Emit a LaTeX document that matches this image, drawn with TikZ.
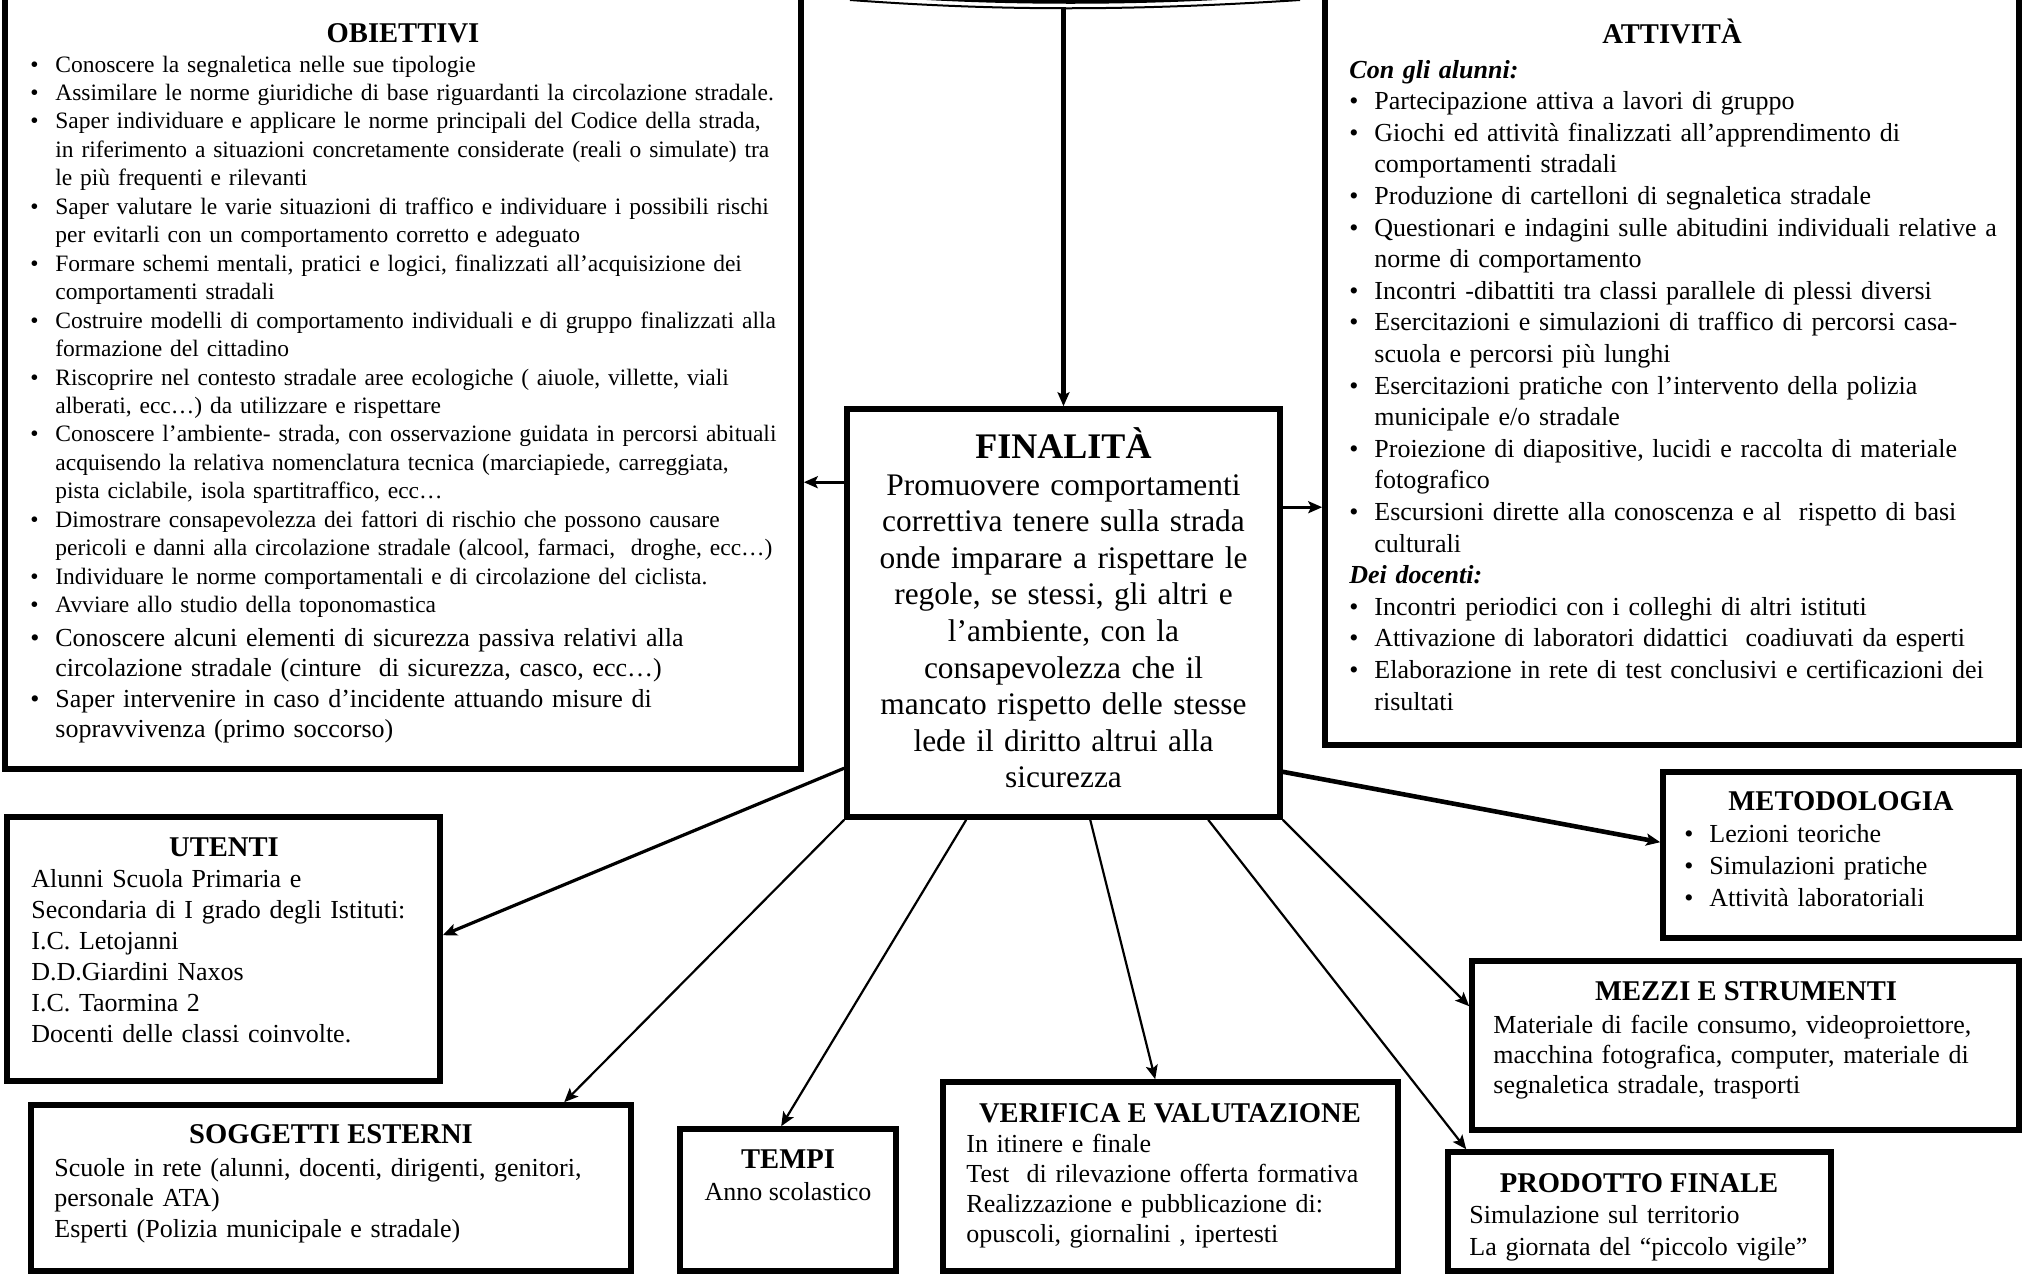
\documentclass[tikz,border=0pt]{standalone}
\usepackage{fontspec}
\setmainfont{Liberation Serif}
\usetikzlibrary{arrows.meta,calc,fit}
\newcommand\fs[2]{\fontsize{#1}{#2}\selectfont}
\newcommand\bu{\makebox[12.5pt][l]{\textbullet}}
\newcommand\ind{\hspace*{12.5pt}}
\begin{document}
\begin{tikzpicture}[x=0.5pt,y=-0.5pt,
  box/.style={draw, line width=2.8pt, inner sep=0pt},
  ttl/.style={anchor=base, inner sep=0pt, font=\bfseries\fs{14.3}{17}},
  txt/.style={anchor=base west, inner sep=0pt, text width=420pt, align=left},
  tip/.style={-{Stealth[length=7pt,width=6pt,inset=1.5pt]}},
  arrthin/.style={tip, line width=1.1pt},
  arrmid/.style={tip, line width=1.6pt},
  arrthick/.style={tip, line width=2.3pt}]
\useasboundingbox (0,0) rectangle (2023,1275);
\fill[white] (0,0) rectangle (2023,1275);
\clip (0,0) rectangle (2023,1275);

% top shape (bottom of a cut-off title shape)
\fill (880,-3) .. controls (1000,6) and (1140,6) .. (1265,-3) -- cycle;
\draw[line width=1pt] (850,0) .. controls (1000,11) and (1130,11) .. (1300,0);
\coordinate (ttop) at (1063.5,7);

% boxes
\node[box, fit={(5,-20) (801,769)}] (obj) {};
\node[box, fit={(1325,-20) (2019,745)}] (att) {};
\node[box, fit={(847,409) (1280,817)}] (fin) {};
\node[box, fit={(7,817) (440,1081)}] (ute) {};
\node[box, fit={(31,1105) (631,1271)}] (sog) {};
\node[box, fit={(680,1129) (896,1271)}] (tem) {};
\node[box, fit={(943,1082) (1398,1271)}] (ver) {};
\node[box, fit={(1663,772) (2019,938)}] (met) {};
\node[box, fit={(1472,961) (2019,1130)}] (mez) {};
\node[box, fit={(1448,1152) (1831,1271)}] (pro) {};

% OBIETTIVI
\node[ttl] (objT) at (403,42) {OBIETTIVI};
\node[txt, font=\fs{11.75}{14.23}] (objB) at (30,72) {%
\bu Conoscere la segnaletica nelle sue tipologie\\
\bu Assimilare le norme giuridiche di base riguardanti la circolazione stradale.\\
\bu Saper individuare e applicare le norme principali del Codice della strada,\\
\ind in riferimento a situazioni concretamente considerate (reali o simulate) tra\\
\ind le più frequenti e rilevanti\\
\bu Saper valutare le varie situazioni di traffico e individuare i possibili rischi\\
\ind per evitarli con un comportamento corretto e adeguato\\
\bu Formare schemi mentali, pratici e logici, finalizzati all’acquisizione dei\\
\ind comportamenti stradali\\
\bu Costruire modelli di comportamento individuali e di gruppo finalizzati alla\\
\ind formazione del cittadino\\
\bu Riscoprire nel contesto stradale aree ecologiche ( aiuole, villette, viali\\
\ind alberati, ecc…) da utilizzare e rispettare\\
\bu Conoscere l’ambiente- strada, con osservazione guidata in percorsi abituali\\
\ind acquisendo la relativa nomenclatura tecnica (marciapiede, carreggiata,\\
\ind pista ciclabile, isola spartitraffico, ecc…\\
\bu Dimostrare consapevolezza dei fattori di rischio che possono causare\\
\ind pericoli e danni alla circolazione stradale (alcool, farmaci,\ \ droghe, ecc…)\\
\bu Individuare le norme comportamentali e di circolazione del ciclista.\\
\bu Avviare allo studio della toponomastica};
\node[txt, font=\fs{13}{15.25}] (objC) at (30,646) {%
\bu Conoscere alcuni elementi di sicurezza passiva relativi alla\\
\ind circolazione stradale (cinture\ \ di sicurezza, casco, ecc…)\\
\bu Saper intervenire in caso d’incidente attuando misure di\\
\ind sopravvivenza (primo soccorso)};

% ATTIVITA
\node[ttl] (attT) at (1672,43) {ATTIVITÀ};
\node[txt, font=\fs{13}{15.8}] (attB) at (1349,78) {%
\textbf{\textit{Con gli alunni:}}\\
\bu Partecipazione attiva a lavori di gruppo\\
\bu Giochi ed attività finalizzati all’apprendimento di\\
\ind comportamenti stradali\\
\bu Produzione di cartelloni di segnaletica stradale\\
\bu Questionari e indagini sulle abitudini individuali relative a\\
\ind norme di comportamento\\
\bu Incontri -dibattiti tra classi parallele di plessi diversi\\
\bu Esercitazioni e simulazioni di traffico di percorsi casa-\\
\ind scuola e percorsi più lunghi\\
\bu Esercitazioni pratiche con l’intervento della polizia\\
\ind municipale e/o stradale\\
\bu Proiezione di diapositive, lucidi e raccolta di materiale\\
\ind fotografico\\
\bu Escursioni dirette alla conoscenza e al\ \ rispetto di basi\\
\ind culturali\\
\textbf{\textit{Dei docenti:}}\\
\bu Incontri periodici con i colleghi di altri istituti\\
\bu Attivazione di laboratori didattici\ \ coadiuvati da esperti\\
\bu Elaborazione in rete di test conclusivi e certificazioni dei\\
\ind risultati};

% FINALITA
\node[anchor=base, inner sep=0pt, font=\bfseries\fs{18}{22}] (finT) at (1063.5,458) {FINALITÀ};
\node[anchor=base, inner sep=0pt, text width=215pt, align=center, font=\fs{15.7}{18.3}] (finB) at (1063.5,495) {Promuovere comportamenti\\correttiva tenere sulla strada\\onde imparare a rispettare le\\regole, se stessi, gli altri e\\l’ambiente, con la\\consapevolezza che il\\mancato rispetto delle stesse\\lede il diritto altrui alla\\sicurezza};

% UTENTI
\node[ttl] (uteT) at (224,856) {UTENTI};
\node[txt, font=\fs{13}{15.5}] (uteB) at (31,887) {%
Alunni Scuola Primaria e\\
Secondaria di I grado degli Istituti:\\
I.C. Letojanni\\
D.D.Giardini Naxos\\
I.C. Taormina 2\\
Docenti delle classi coinvolte.};

% SOGGETTI ESTERNI
\node[ttl] (sogT) at (331,1143) {SOGGETTI ESTERNI};
\node[txt, font=\fs{13}{15.25}] (sogB) at (54,1176) {%
Scuole in rete (alunni, docenti, dirigenti, genitori,\\
personale ATA)\\
Esperti (Polizia municipale e stradale)};

% TEMPI
\node[ttl] (temT) at (788,1168) {TEMPI};
\node[anchor=base, inner sep=0pt, font=\fs{13}{15.5}] (temB) at (788,1200) {Anno scolastico};

% VERIFICA E VALUTAZIONE
\node[ttl] (verT) at (1170,1122) {VERIFICA E VALUTAZIONE};
\node[txt, font=\fs{13}{15.15}] (verB) at (966,1152) {%
In itinere e finale\\
Test\ \ di rilevazione offerta formativa\\
Realizzazione e pubblicazione di:\\
opuscoli, giornalini , ipertesti};

% METODOLOGIA
\node[ttl] (metT) at (1841,810) {METODOLOGIA};
\node[txt, font=\fs{13}{16}] (metB) at (1684,842) {%
\bu Lezioni teoriche\\
\bu Simulazioni pratiche\\
\bu Attività laboratoriali};

% MEZZI E STRUMENTI
\node[ttl] (mezT) at (1746,1000) {MEZZI E STRUMENTI};
\node[txt, font=\fs{13}{15}] (mezB) at (1493,1033) {%
Materiale di facile consumo, videoproiettore,\\
macchina fotografica, computer, materiale di\\
segnaletica stradale, trasporti};

% PRODOTTO FINALE
\node[ttl] (proT) at (1639,1192) {PRODOTTO FINALE};
\node[txt, font=\fs{13}{16}] (proB) at (1469,1223) {%
Simulazione sul territorio\\
La giornata del “piccolo vigile”};

% connectors
\draw[arrthick] (ttop) -- (fin.north);
\coordinate (fw) at ($(fin.north west)+(0,76)$);
\draw[arrmid] (fw) -- (fw -| obj.east);
\coordinate (fe) at ($(fin.north east)+(0,101)$);
\draw[arrmid] (fe) -- (fe -| att.west);
\draw[arrmid] ($(fin.north west)+(0,362)$) -- ($(ute.north east)+(0,121)$);
\draw[arrthin] (fin.south west) -- ($(sog.north west)+(536,0)$);
\draw[arrthin] ($(fin.south west)+(122,0)$) -- ($(tem.north west)+(104,0)$);
\draw[arrthin] ($(fin.south west)+(246,0)$) -- ($(ver.north west)+(215,0)$);
\draw[arrthin] ($(fin.south west)+(364,0)$) -- ($(pro.north west)+(21,0)$);
\draw[arrthin] (fin.south east) -- ($(mez.north west)+(0,48)$);
\draw[arrthick] ($(fin.south east)+(0,-48)$) -- ($(met.north west)+(0,73)$);
\end{tikzpicture}
\end{document}
